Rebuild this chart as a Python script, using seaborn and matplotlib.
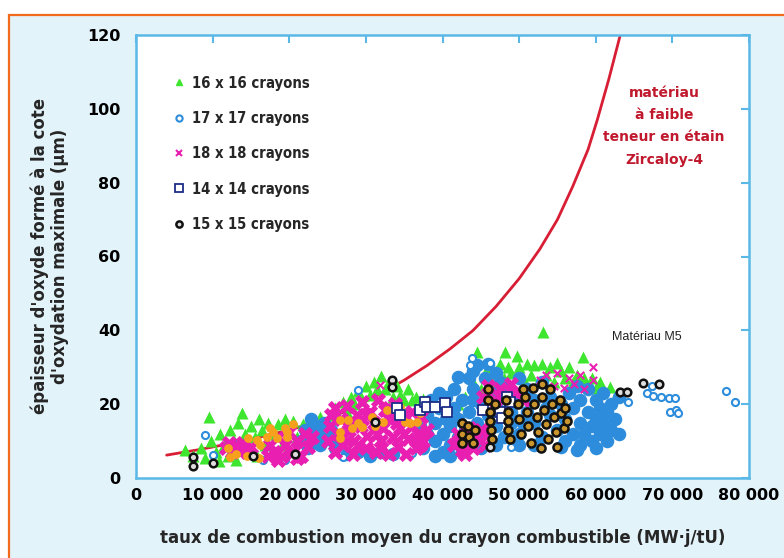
import numpy as np
import pandas as pd
import seaborn as sns
import matplotlib.pyplot as plt
from matplotlib.lines import Line2D
from matplotlib.patches import Rectangle

# taux de combustion en milliers de MW.j/tU, epaisseur en micrometres
courbe_x = [4, 8, 12, 16, 20, 24, 28, 32, 35, 38, 41, 44, 47, 50, 52.7, 55, 57, 59, 60.2, 61.7, 63.2]
courbe_y = [6.2, 7.6, 9.2, 11, 13, 15.5, 18.5, 23, 26.5, 30.5, 35, 40, 46.5, 54, 62, 70, 79, 89, 97, 108, 120]

# 16 x 16 crayons
vert_x = [6.4, 7.5, 8.5, 9, 9.5, 9.8, 10.5, 10.8, 11, 11.5, 12, 12.3, 12.8, 13, 13.3, 13.8, 14.2, 14.5, 15, 15.5,
          15.8, 16, 16.5, 16.8, 17.2, 17.8, 18, 18.5, 19, 19.5, 20, 20.5, 21, 21.8, 22.5,
          23, 24, 25, 25.5, 26, 27, 27.5, 28, 28.5, 29, 29.5, 30, 30.5, 31, 31.5, 32, 32.5, 33, 33.5, 34,
          34.5, 35, 35.5, 36, 36.5, 37, 37.5, 38,
          42, 43, 44, 44.5, 45, 45.5, 46, 46.5, 47, 47.5, 48, 48.2, 48.5, 49, 49.7, 50, 50.5, 51, 51.5, 52,
          52.5, 53, 53.1, 53.5, 54, 54.5, 54.9, 55.5, 56, 56.5, 57, 57.5, 58.3, 58.5, 59, 59.5, 60, 60.5,
          61, 61.9, 62.5, 63]
vert_y = [7.6, 6, 8, 5.5, 16.5, 10, 7, 4.5, 12, 9, 6, 13, 10, 5, 15, 17.5, 12, 8, 14, 11,
          6, 16, 13, 9, 15, 12, 6.5, 14.5, 9, 16, 12.5, 15.5, 11, 14.5, 13,
          15, 16.5, 14.5, 17, 19, 20.5, 18, 22, 20, 23.5, 21, 25, 22.5, 26, 24, 27.5, 24, 26, 22, 25,
          22.5, 21, 24, 21, 22, 20, 21.5, 19.5,
          20, 22, 26, 34, 24, 28, 30, 26, 29, 31, 27, 34, 30, 28.5, 33, 30, 27, 31, 28, 30.5,
          26, 31, 39.5, 28, 30, 26, 31.2, 29, 27, 30, 26, 28, 32.8, 27, 25, 27, 24.5, 26,
          24, 24.6, 22, 23]

# 17 x 17 crayons : nuages denses et points isoles
bleu_x = [21.5, 22, 22.5, 22.8, 23, 23.5, 24, 24, 24.5, 25, 25.5, 26, 26, 27.5, 29, 30.5, 32, 33.5,
          36.5, 37, 37.5, 38, 38, 38.5, 39, 39, 39.5, 40, 40, 40.5, 40.5, 41, 41, 41.5, 42, 42, 42.5,
          42.5, 43, 43.5, 43.5, 44, 44, 44.5, 44.5, 45, 45, 45.5, 46, 46, 46.5, 47, 47, 47.5, 48, 48,
          48.5, 49, 49.5, 50, 50, 51, 51, 52, 52, 53, 53, 54, 54, 42, 44, 47,
          39, 41, 45, 47, 50, 52, 49, 50.5, 51.5, 53.5, 44, 41.5, 39.5,
          55, 55.5, 56, 56, 56.5, 57, 57, 57.5, 58, 58, 58, 58.5, 59, 59, 59.5, 59.5, 60, 60, 60.5,
          60.5, 61, 61, 61.5, 61.5, 62, 62, 62.5, 63, 63, 57.5, 60, 55.5]
bleu_y = [10, 13, 8, 16, 11, 14, 9, 12, 15, 10.5, 13, 8, 11, 6.5, 7, 6, 7, 6.5,
          10, 14, 8, 12, 17, 21, 10, 15, 19, 7, 12, 16, 22, 9, 14, 19, 11, 16, 7,
          21, 13, 18, 27, 10, 24, 15, 30.5, 20, 12, 27, 17, 31, 23, 14, 20, 26, 11, 18,
          24, 15, 21, 12, 27, 18, 24, 15, 21, 11, 26, 17, 22, 27.4, 29, 28.5,
          6, 6, 8, 9, 9, 9, 18, 15, 21, 19, 21, 24, 23,
          13, 20, 10, 16, 23, 12, 19, 25, 9, 15, 21, 12, 18, 24, 10, 14, 21, 16, 12,
          19, 23, 15, 10, 18, 13, 20, 16, 22, 12, 7.5, 8, 8.5]
bleu_iso_x = [9, 10, 12.7, 16.6, 19.5, 29, 27, 31.6, 36, 49, 43.6, 43.9, 46.2, 64.2, 66.7, 67.3,
              67.5, 68.5, 69.5, 70.3, 69.7, 70.5, 70.7, 77, 78.2]
bleu_iso_y = [11.6, 6.2, 9.8, 4.9, 5, 23.8, 5.7, 6.8, 6.8, 8.4, 30.6, 32.5, 31.2, 20.6, 23, 25,
              22.3, 22, 21.8, 21.7, 18, 18.4, 17.6, 23.6, 20.6]

# 18 x 18 crayons
rose_x = [11.8, 12.2, 12.5, 13, 13.5, 14, 14.5, 15,
          17.2, 17.5, 18, 18.5, 18.5, 19, 19.5, 20, 20.5, 21, 21, 21.5, 22, 22.5, 23,
          25, 25.3, 25.5, 26, 26.3, 26.8, 27, 27.5, 27.8, 28.3, 28.5, 28.8, 29.3, 29.5, 30, 30.2, 30.6,
          31, 31.3, 31.6, 32, 32.2, 32.5, 33, 33, 33.5, 33.8, 34.2, 34.5, 35, 35.2, 35.5, 36, 36.5,
          36.8, 37.2, 37.5, 38,
          26, 28, 30, 31.5, 33, 34, 36, 37, 29, 27, 32, 35, 29.5,
          41.5, 42, 42.5, 43, 43, 43.5, 44, 44.5, 45, 45.5, 46,
          45.3, 46, 46.8, 47.5, 48.2, 49, 49.7, 50.5]
rose_y = [8, 9.5, 7, 9, 7.5, 9.5, 7, 8.5,
          6, 9, 7, 11, 5, 6, 9, 12.5, 7, 10, 5.5, 6, 12, 8.5, 11,
          10, 14, 17, 7, 12, 16, 9, 19.5, 13, 6.5, 10, 17, 14, 20.5, 8, 11.5, 18,
          15, 7, 21, 10, 13.5, 18.5, 6.5, 16, 11, 20, 8.5, 13.5, 17, 6.5, 10.5, 14, 8,
          12, 16.5, 10, 13,
          19, 15, 17, 12, 19, 15, 18, 9, 9, 11, 8, 12, 16,
          9, 12, 7.5, 10.5, 6.5, 13.5, 8, 11, 13, 9, 12,
          22, 25, 21, 24, 22.5, 25.5, 23, 21]
rose_iso_x = [31.8, 52.7, 53.5, 54.5, 55, 55.8, 56.5, 57.2, 58, 58.5, 59.6, 59.6]
rose_iso_y = [25.2, 26.5, 28, 25, 28.5, 24.5, 27, 25.5, 28, 24, 30, 26.5]

# points orange (sans legende)
orange_x = [12, 12.3, 13, 14.5, 14.6, 15.8, 16, 16.2, 17.1, 17.5, 17.9, 18.4, 19.4, 19.7, 19.7, 20.5,
            26.6, 26.6, 26.6, 27.7, 28.2, 29, 29.5, 30.8, 31.2, 32.2, 32.8, 34.5, 34.5, 35.1, 35.8,
            36.7, 37]
orange_y = [8, 5.7, 6.5, 6, 10.8, 10.3, 5.5, 8.9, 11.1, 13.5, 12.5, 10.8, 13.5, 11.1, 12.5, 14.5,
            15.7, 12.5, 10.8, 15.7, 13.5, 15, 13.8, 16.5, 14, 15.2, 18.4, 17.6, 19.2, 15.2, 14.9,
            15.2, 17.6]

# 14 x 14 crayons
carre_x = [34, 34.5, 37, 37.7, 38, 39, 40.3, 40.6, 45.3, 47.5, 47.8, 48.4, 48.8]
carre_y = [19, 17.1, 18.4, 20.6, 19.2, 19.2, 20.3, 17.9, 18.4, 17.9, 16.3, 21.9, 20.6]

# 15 x 15 crayons
noir_iso_x = [7.4, 7.4, 10, 15.3, 20.7, 31.2, 33.4, 33.4, 46.2, 63.2, 64.1, 66.2, 68.3]
noir_iso_y = [5.7, 3.3, 4.1, 6, 6.5, 15.2, 26.5, 24.6, 8.4, 23.3, 23.3, 25.7, 25.5]
noir_x = [42.5, 42.6, 42.5, 43.3, 43.5, 44, 44.2,
          46, 46, 46.2, 46.2, 46.3, 46.5, 46.8,
          48.3, 48.5, 48.5, 48.6, 48.8,
          49.8, 50, 50.3, 50.5, 50.8, 51, 51.2, 51.5, 51.8, 52, 52.3, 52.5, 52.8, 53, 53, 53.3, 53.5,
          53.8, 54, 54.3, 54.5, 54.8, 55, 55.3, 55.5, 55.8, 56, 56.2]
noir_y = [15, 12, 9.5, 14, 11, 9.5, 13,
          24, 21, 18, 15.5, 13, 10.5, 20,
          21, 18, 15.5, 13, 10.5,
          20, 16, 12, 24, 22, 18, 14, 9.5, 24.5, 20, 16.5, 12.5, 8, 22, 25.5, 18.5, 14.5,
          10.5, 24, 20, 16.5, 12.5, 8.5, 21, 17.5, 13.5, 19, 15.5]

legende = ["16 x 16 crayons", "17 x 17 crayons", "18 x 18 crayons", "14 x 14 crayons", "15 x 15 crayons"]


def table(xs, ys):
    return pd.DataFrame({"taux": np.array(xs) * 1000, "epaisseur": ys})


VERT = "#3fe62f"
BLEU = "#2d8ddc"
ROSE = "#e81fb0"
ORANGE = "#f6a01e"
MARINE = "#1c2d86"
ROUGE = "#d81e35"
CADRE = "#5ab8e6"

sns.set_style("white")
plt.rcParams["font.family"] = ["DejaVu Sans"]

fig = plt.figure(figsize=(7.84, 5.58), dpi=100)
fig.patch.set_facecolor("white")
fond = Rectangle((9 / 784, -0.05), 1.0, 1 - 15 / 558 + 0.05, transform=fig.transFigure,
                 facecolor="#e3f3fa", edgecolor="#f26a1b", linewidth=1.6, zorder=-10)
fig.patches.append(fond)
ax = fig.add_axes([136 / 784, 1 - 478 / 558, 613 / 784, 443 / 558])
ax.set_zorder(1)
ax.set_facecolor("white")

sns.lineplot(data=table(courbe_x, courbe_y), x="taux", y="epaisseur", color=ROUGE, linewidth=2,
             sort=False, estimator=None, ax=ax, zorder=1)

sns.scatterplot(data=table(vert_x, vert_y), x="taux", y="epaisseur", marker="^", s=75, color=VERT,
                linewidth=0, ax=ax, zorder=2)
sns.scatterplot(data=table(bleu_x, bleu_y), x="taux", y="epaisseur", marker="o", s=95, color=BLEU,
                linewidth=0, ax=ax, zorder=3)
sns.scatterplot(data=table(bleu_iso_x, bleu_iso_y), x="taux", y="epaisseur", marker="o", s=26,
                color="white", edgecolor=BLEU, linewidth=1.5, ax=ax, zorder=3)
sns.scatterplot(data=table(rose_x, rose_y), x="taux", y="epaisseur", marker="X", s=120, color=ROSE,
                linewidth=0, ax=ax, zorder=4)
sns.scatterplot(data=table(rose_iso_x, rose_iso_y), x="taux", y="epaisseur", marker="x", s=28,
                color=ROSE, linewidth=1.5, ax=ax, zorder=4)
sns.scatterplot(data=table(orange_x, orange_y), x="taux", y="epaisseur", marker="o", s=40,
                color=ORANGE, linewidth=0, ax=ax, zorder=5)
sns.scatterplot(data=table(carre_x, carre_y), x="taux", y="epaisseur", marker="s", s=48,
                color="white", edgecolor=MARINE, linewidth=1.3, ax=ax, zorder=6)
sns.scatterplot(data=table(noir_x, noir_y), x="taux", y="epaisseur", marker="o", s=34,
                color="#c9952c", edgecolor="#111111", linewidth=1.8, ax=ax, zorder=7)
sns.scatterplot(data=table(noir_iso_x, noir_iso_y), x="taux", y="epaisseur", marker="o", s=30,
                color="#dddddd", edgecolor="#111111", linewidth=1.8, ax=ax, zorder=7)

ax.set_xlim(0, 80000)
ax.set_ylim(0, 120)
xt = list(range(0, 80001, 10000))
ax.set_xticks(xt)
ax.set_xticklabels([f"{v:,}".replace(",", " ") for v in xt])
ax.set_yticks(range(0, 121, 20))
for lab in ax.get_xticklabels() + ax.get_yticklabels():
    lab.set_fontweight("bold")
ax.tick_params(direction="in", length=6, width=1.5, color=CADRE, labelsize=11.5, labelcolor="black",
               top=True, right=True)
ax.tick_params(axis="y", pad=11)
ax.tick_params(axis="x", pad=7)
for sp in ax.spines.values():
    sp.set_color(CADRE)
    sp.set_linewidth(1.8)

ax.set_xlabel("taux de combustion moyen du crayon combustible (MW·j/tU)", fontsize=13.2,
              fontweight="bold", fontstretch="condensed", va="center")
ax.xaxis.set_label_coords(0.5, -0.135)
ax.set_ylabel("épaisseur d'oxyde formé à la cote\nd'oxydation maximale (µm)", fontsize=13.2,
              fontweight="bold", fontstretch="condensed", va="center", ha="center", linespacing=1.15)
ax.yaxis.set_label_coords(-0.14, 0.5)

ax.text(68900, 95.3, "matériau\nà faible\nteneur en étain\nZircaloy-4", color="#c0182c", fontsize=10,
        fontweight="bold", ha="center", va="center", linespacing=1.75)
ax.text(66700, 38.2, "Matériau M5", fontsize=9, family="Liberation Sans", ha="center", va="center",
        color="#222222")

poignees = [
    Line2D([], [], marker="^", linestyle="", color=VERT, markersize=5),
    Line2D([], [], marker="o", linestyle="", markerfacecolor="white", markeredgecolor=BLEU,
           markeredgewidth=1.5, markersize=4.5),
    Line2D([], [], marker="x", linestyle="", color=ROSE, markeredgewidth=1.5, markersize=5),
    Line2D([], [], marker="s", linestyle="", markerfacecolor="white", markeredgecolor=MARINE,
           markeredgewidth=1.3, markersize=6),
    Line2D([], [], marker="o", linestyle="", markerfacecolor="#dddddd", markeredgecolor="#111111",
           markeredgewidth=1.8, markersize=4.5),
]
leg = ax.legend(poignees, legende, loc="upper left", bbox_to_anchor=(0.048, 0.925), frameon=False,
                handlelength=0.8, handletextpad=0.5, labelspacing=1.38, borderpad=0,
                prop={"size": 10.6, "weight": "bold", "stretch": "condensed"})

fig.savefig("out.png", dpi=100)
